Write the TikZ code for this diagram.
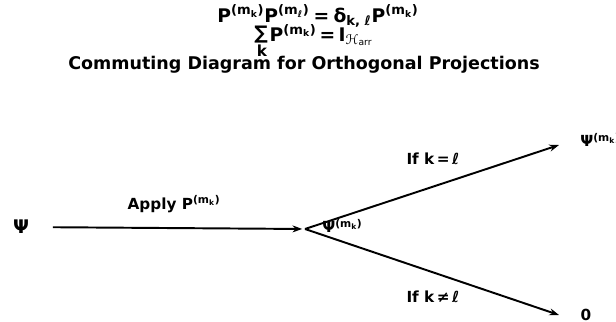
\documentclass[tikz,border=0pt]{standalone}
\usepackage{fontspec}
\setmainfont{DejaVu Sans}
\usetikzlibrary{arrows.meta,positioning}
\newcommand{\supmk}{\textsuperscript{(m\textsubscript{k})}}
\newcommand{\supml}{\textsuperscript{(m\textsubscript{ℓ})}}
\begin{document}
\begin{tikzpicture}[x=0.72pt,y=-0.72pt,
    font=\bfseries\fontsize{11}{13}\selectfont,
    arr/.style={-{Stealth[length=7pt,width=5pt]}, line width=1.4pt},
    big/.style={font=\bfseries\fontsize{13.5}{15}\selectfont, inner sep=0pt}]
    \useasboundingbox (0,0) rectangle (616,322);

    % heading
    \node[big] (eqone) at (318,16) {P\supmk P\supml{}\:=\:δ\textsubscript{k, ℓ}P\supmk};
    \node[big] (sum) at (261,35) {∑};
    \node[inner sep=0pt] (sumk) at (262,51) {k};
    \node[big, right=1pt of sum.east] (eqtwo) {P\supmk{}\,=\,I\textsubscript{\mdseries ℋ\textsubscript{arr}}};
    \node[big, font=\bfseries\fontsize{12.6}{14}\selectfont] (title) at (304,65) {Commuting Diagram for Orthogonal Projections};

    % states
    \node[big] (psi) at (21,227) {Ψ};
    \coordinate (split) at (305,229);
    \node[anchor=west, inner sep=0pt] (psik) at (322,226) {Ψ\supmk};
    \node[anchor=west, inner sep=0pt] (psiout) at (580,140) {Ψ\supmk};
    \node[inner sep=0pt] (zero) at (586,315) {0};
    \coordinate (topend) at (559,145);
    \coordinate (zeroend) at (559,315);

    % arrows
    \draw[arr, shorten <=17pt, shorten >=2pt] (psi) -- (split);
    \draw[arr] (split) -- (topend);
    \draw[arr] (split) -- (zeroend);

    \node (apply) at (174,204) {Apply P\supmk};
    \node (ifeq) at (433,159) {If k\,=\,ℓ};
    \node (ifneq) at (433,297) {If k\,≠\,ℓ};
\end{tikzpicture}
\end{document}
